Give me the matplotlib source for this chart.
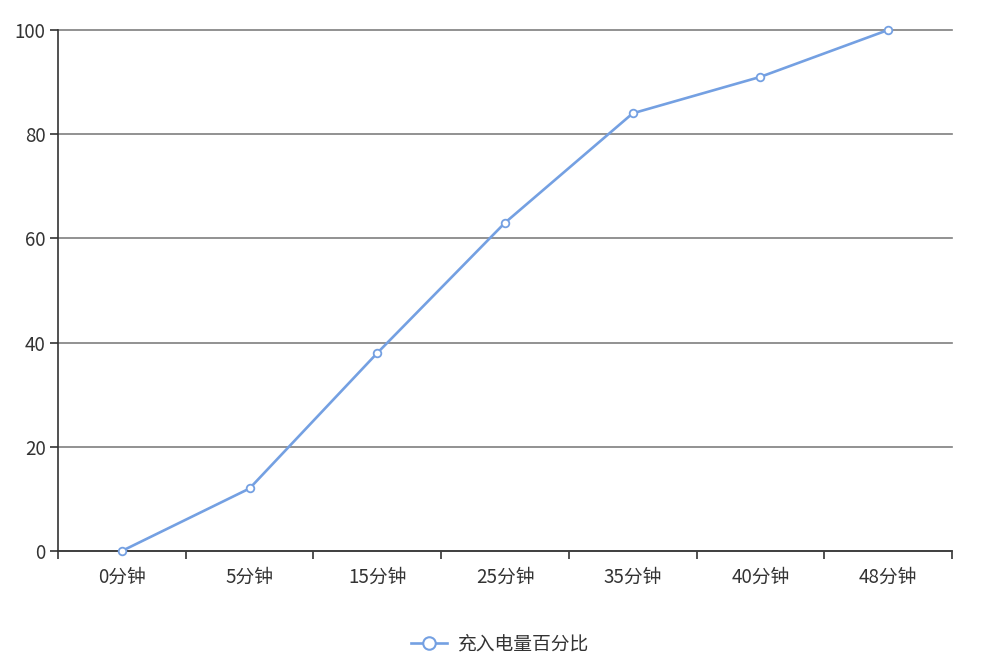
import matplotlib
matplotlib.use("Agg")
import matplotlib.pyplot as plt
from matplotlib.lines import Line2D

plt.rcParams['font.family'] = ['Noto Sans CJK SC', 'DejaVu Sans']

categories = ['0分钟', '5分钟', '15分钟', '25分钟', '35分钟', '40分钟', '48分钟']
charge_pct = [0, 12, 38, 63, 84, 91, 100]
series_name = '充入电量百分比'
y_ticks = [0, 20, 40, 60, 80, 100]

line_color = '#74a0e2'
axis_color = '#333333'
grid_color = '#7f7f7f'

fig = plt.figure(figsize=(10, 6.66), dpi=100)
ax = fig.add_axes([0.058, 0.1727, 0.894, 0.7823])

x = list(range(len(categories)))
ax.plot(x, charge_pct, color=line_color, lw=1.9, marker='o', ms=5.5,
        mfc='white', mec=line_color, mew=1.3, zorder=3, clip_on=False)

ax.set_xlim(-0.5, len(categories) - 0.5)
ax.set_ylim(0, 100)
ax.set_yticks(y_ticks)
ax.set_xticks(x)
ax.set_xticklabels(categories)
ax.set_xticks([i - 0.5 for i in range(len(categories) + 1)], minor=True)

ax.yaxis.grid(True, color=grid_color, lw=1.2)
for gl in ax.get_ygridlines():
    gl.set_clip_on(False)
ax.set_axisbelow(True)

for s in ['top', 'right']:
    ax.spines[s].set_visible(False)
for s in ['left', 'bottom']:
    ax.spines[s].set_color(axis_color)
    ax.spines[s].set_linewidth(1.2)

ax.tick_params(axis='y', length=6, width=1.2, color=axis_color,
               labelsize=13.5, labelcolor=axis_color, pad=3)
ax.tick_params(axis='x', which='major', length=0, labelsize=13.5,
               labelcolor=axis_color, pad=11)
ax.tick_params(axis='x', which='minor', length=6, width=1.2, color=axis_color)

handle = Line2D([], [], color=line_color, lw=1.9, marker='o', ms=9,
                mfc='white', mec=line_color, mew=1.5)
fig.legend([handle], [series_name], loc='center',
           bbox_to_anchor=(0.5, 1 - 644 / 666), frameon=False,
           fontsize=13.5, handlelength=1.9, handletextpad=0.6,
           labelcolor=axis_color)

fig.savefig('out.png', dpi=100)
